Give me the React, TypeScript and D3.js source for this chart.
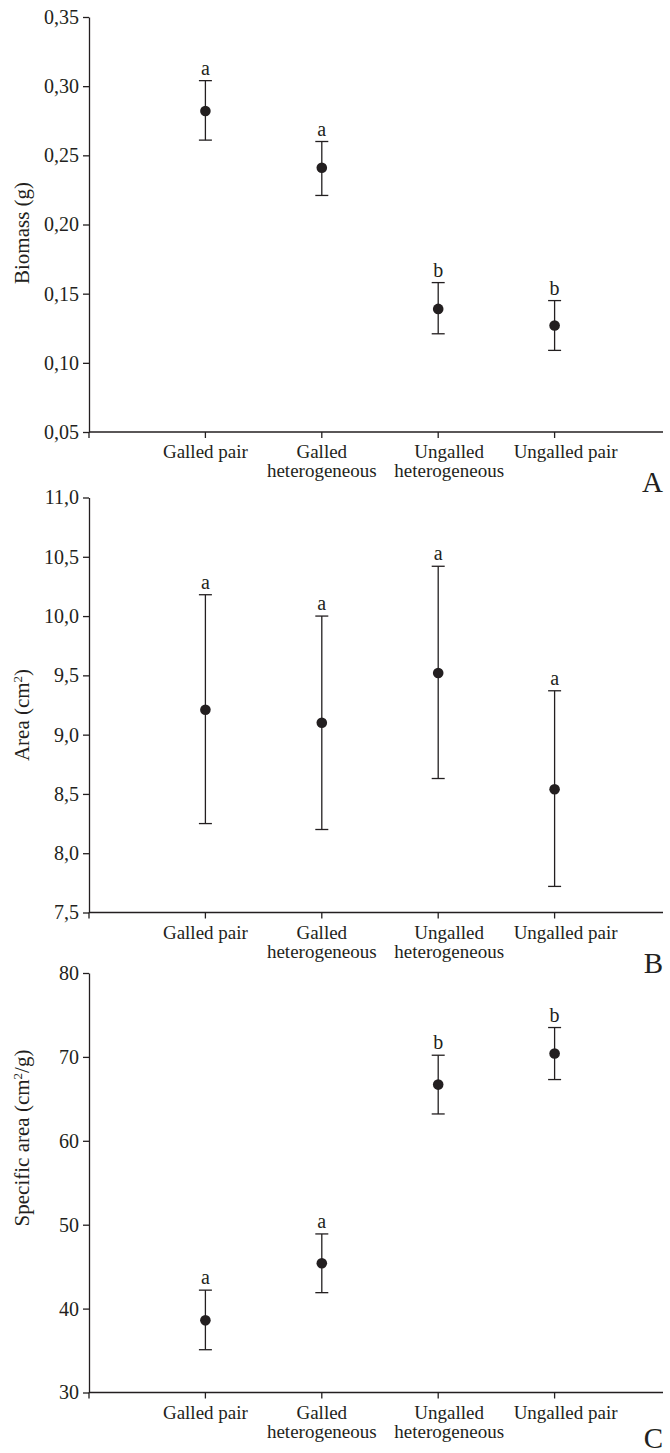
import * as d3 from 'd3';
import React, { useRef, useEffect } from 'react';

const categories = ['Galled pair', 'Galled heterogeneous', 'Ungalled heterogeneous', 'Ungalled pair'];
const categoryLines = [['Galled pair'], ['Galled', 'heterogeneous'], ['Ungalled', 'heterogeneous'], ['Ungalled pair']];

const biomassMean = [0.282, 0.241, 0.139, 0.127];
const biomassLow = [0.261, 0.221, 0.121, 0.109];
const biomassHigh = [0.304, 0.260, 0.158, 0.145];
const biomassGroup = ['a', 'a', 'b', 'b'];

const areaMean = [9.21, 9.10, 9.52, 8.54];
const areaLow = [8.25, 8.20, 8.63, 7.72];
const areaHigh = [10.18, 10.00, 10.42, 9.37];
const areaGroup = ['a', 'a', 'a', 'a'];

const specMean = [38.6, 45.4, 66.7, 70.4];
const specLow = [35.1, 41.9, 63.2, 67.3];
const specHigh = [42.2, 48.9, 70.2, 73.5];
const specGroup = ['a', 'a', 'b', 'b'];

const INK = '#231f20';
const FONT = '"Liberation Serif", "Times New Roman", serif';

const locale = d3.formatLocale({ decimal: ',', thousands: '.', grouping: [3], currency: ['', ''] });

const panels = [
  { mean: biomassMean, low: biomassLow, high: biomassHigh, group: biomassGroup,
    domain: [0.05, 0.35], ticks: 6, fmt: locale.format('.2f'),
    top: 17, height: 415, title: ['Biomass (g)'], titleY: 233, letter: 'A' },
  { mean: areaMean, low: areaLow, high: areaHigh, group: areaGroup,
    domain: [7.5, 11], ticks: 7, fmt: locale.format('.1f'),
    top: 497.5, height: 415, title: ['Area (cm', '2', ')'], titleY: 715, letter: 'B' },
  { mean: specMean, low: specLow, high: specHigh, group: specGroup,
    domain: [30, 80], ticks: 5, fmt: locale.format('d'),
    top: 973, height: 419.5, title: ['Specific area (cm', '2', '/g)'], titleY: 1138, letter: 'C' },
];

const App = () => {
  const ref = useRef(null);

  useEffect(() => {
    const svg = d3.select(ref.current);
    svg.selectAll('*').remove();

    const left = 89;
    const right = 663;
    const x = d3.scalePoint().domain(categories).range([left, 671]).padding(1);
    const labelShift = [0, 0, 11, 11];

    panels.forEach(p => {
      const bottom = p.top + p.height;
      const y = d3.scaleLinear().domain(p.domain).range([bottom, p.top]);
      const g = svg.append('g');

      // y axis
      const yAxis = g.append('g')
        .attr('transform', `translate(${left},0)`)
        .call(d3.axisLeft(y).ticks(p.ticks).tickFormat(p.fmt).tickSize(6).tickSizeOuter(0).tickPadding(4));
      yAxis.select('.domain').attr('stroke', INK).attr('stroke-width', 1.3);
      yAxis.selectAll('.tick line').attr('stroke', INK).attr('stroke-width', 1.3);
      yAxis.selectAll('.tick text')
        .attr('fill', INK)
        .style('font-family', FONT)
        .style('font-size', '20px');

      // x axis
      g.append('line')
        .attr('x1', left).attr('x2', right)
        .attr('y1', bottom).attr('y2', bottom)
        .attr('stroke', INK).attr('stroke-width', 1.3);
      g.append('line')
        .attr('x1', left).attr('x2', left)
        .attr('y1', bottom).attr('y2', bottom + 6)
        .attr('stroke', INK).attr('stroke-width', 1.3);
      categories.forEach((c, i) => {
        const cx = x(c);
        g.append('line')
          .attr('x1', cx).attr('x2', cx)
          .attr('y1', bottom).attr('y2', bottom + 6)
          .attr('stroke', INK).attr('stroke-width', 1.3);
        const t = g.append('text')
          .attr('text-anchor', 'middle')
          .attr('fill', INK)
          .style('font-family', FONT)
          .style('font-size', '19px');
        categoryLines[i].forEach((line, k) => {
          t.append('tspan')
            .attr('x', cx + labelShift[i])
            .attr('y', bottom + 26 + k * 19)
            .text(line);
        });
      });

      // error bars, means, letters
      categories.forEach((c, i) => {
        const cx = x(c);
        const yHi = y(p.high[i]);
        const yLo = y(p.low[i]);
        g.append('line')
          .attr('x1', cx).attr('x2', cx).attr('y1', yHi).attr('y2', yLo)
          .attr('stroke', INK).attr('stroke-width', 1.3);
        [yHi, yLo].forEach(yy => {
          g.append('line')
            .attr('x1', cx - 6.5).attr('x2', cx + 6.5).attr('y1', yy).attr('y2', yy)
            .attr('stroke', INK).attr('stroke-width', 1.3);
        });
        g.append('circle')
          .attr('cx', cx).attr('cy', y(p.mean[i])).attr('r', 5.3)
          .attr('fill', INK);
        g.append('text')
          .attr('x', cx).attr('y', yHi - 6)
          .attr('text-anchor', 'middle')
          .attr('fill', INK)
          .style('font-family', FONT)
          .style('font-size', '20px')
          .text(p.group[i]);
      });

      // y title
      const title = g.append('text')
        .attr('transform', `translate(29,${p.titleY}) rotate(-90)`)
        .attr('text-anchor', 'middle')
        .attr('fill', INK)
        .style('font-family', FONT)
        .style('font-size', '21px');
      title.append('tspan').text(p.title[0]);
      if (p.title.length > 1) {
        title.append('tspan').attr('dy', -7).style('font-size', '13px').text(p.title[1]);
        title.append('tspan').attr('dy', 7).text(p.title[2]);
      }

      // panel letter
      g.append('text')
        .attr('x', right).attr('y', Math.min(bottom + 60, 1448))
        .attr('text-anchor', 'end')
        .attr('fill', INK)
        .style('font-family', FONT)
        .style('font-size', '29px')
        .text(p.letter);
    });
  }, []);

  return (
    <svg ref={ref} width={670} height={1453}
      style={{ position: 'absolute', left: 0, top: 0, background: '#fff' }} />
  );
};

export default App;
